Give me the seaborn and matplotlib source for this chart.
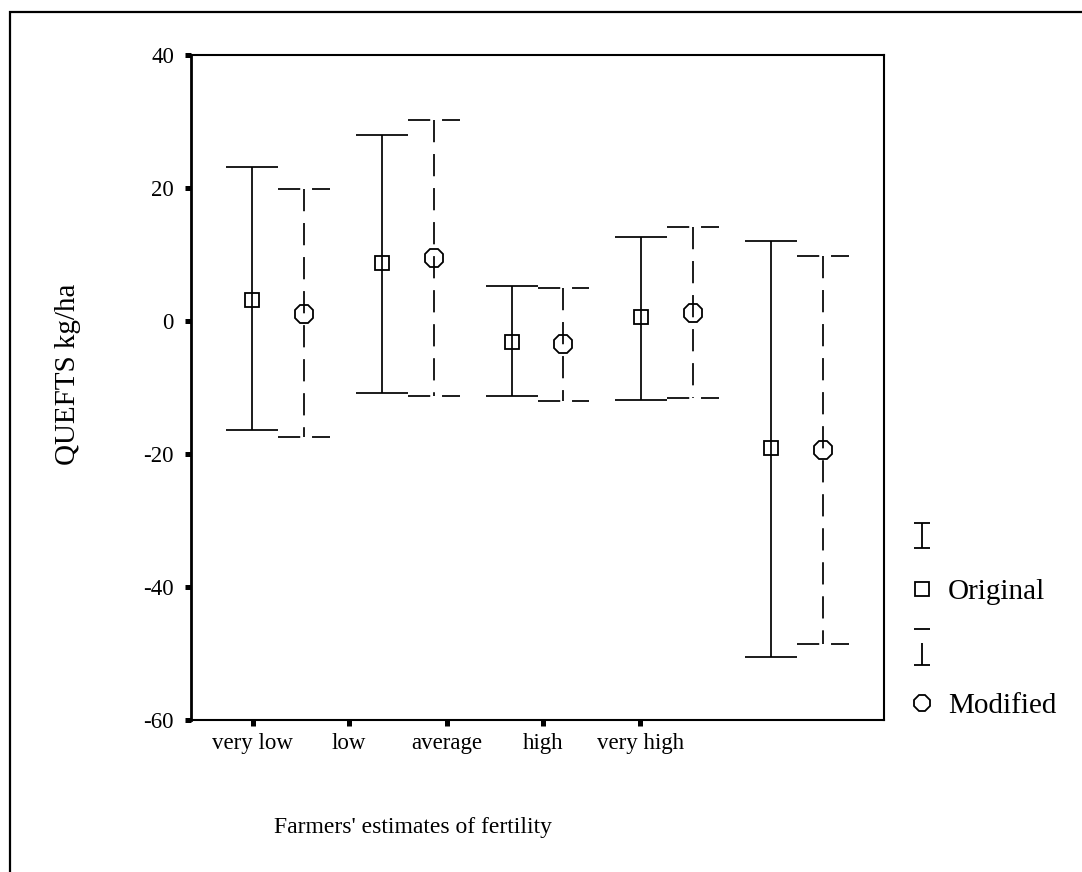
import matplotlib
matplotlib.use('Agg')
import matplotlib.pyplot as plt
import matplotlib.patches as mpatches
from matplotlib.lines import Line2D
from matplotlib.path import Path
import pandas as pd
import numpy as np
import seaborn as sns

# values (mean and error bar ends)
categories = ['very low', 'low', 'average', 'high', 'very high']
series = ['Original', 'Modified']
original_mean = [3.2, 8.7, -3.2, 0.6, -19.1]
original_upper = [23.2, 27.9, 5.3, 12.7, 12.1]
original_lower = [-16.4, -10.9, -11.3, -11.9, -50.6]
modified_mean = [1.1, 9.4, -3.4, 1.2, -19.4]
modified_upper = [19.9, 30.3, 5.0, 14.1, 9.7]
modified_lower = [-17.4, -11.3, -12.0, -11.6, -48.5]
y_ticks = [40, 20, 0, -20, -40, -60]

sns.set_theme(style='white')
plt.rcParams['font.family'] = ['Liberation Serif', 'DejaVu Serif']
plt.rcParams['axes.unicode_minus'] = False
plt.rcParams['lines.scale_dashes'] = False

df = pd.concat([
    pd.DataFrame({'estimate': categories, 'series': 'Original', 'mean': original_mean,
                  'lower': original_lower, 'upper': original_upper}),
    pd.DataFrame({'estimate': categories, 'series': 'Modified', 'mean': modified_mean,
                  'lower': modified_lower, 'upper': modified_upper}),
], ignore_index=True)

W, H = 1082, 872
fig = plt.figure(figsize=(W / 100, H / 100), dpi=100)
ax = fig.add_axes([191 / W, 1 - 720 / H, (884 - 191) / W, (720 - 55) / H])

sns.pointplot(data=df, x='estimate', y='mean', hue='series', order=categories,
              hue_order=series, dodge=0.4, markers=['s', '8'], linestyles='none',
              errorbar=None, palette={'Original': 'black', 'Modified': 'black'},
              markerfacecolor='none', markeredgewidth=1.3, legend=False, ax=ax)

marker_sizes = {'Original': 10.3, 'Modified': 14.3}
dash = (0, (16, 8.5))
for line, name in zip(ax.lines[:2], series):
    line.set_markersize(marker_sizes[name])
    line.set_zorder(3)
    sub = df[df['series'] == name]
    xs = np.asarray(line.get_xdata(), dtype=float)
    ls = '-' if name == 'Original' else dash
    # vertical bars drawn from the top so the dash pattern starts at the cap
    ax.vlines(xs, sub['upper'], sub['lower'], colors='black', linewidth=1.25,
              linestyles=ls, zorder=2)
    for yy in ('upper', 'lower'):
        ax.hlines(sub[yy], xs - 0.2, xs + 0.2, colors='black', linewidth=1.25,
                  linestyles=ls, zorder=2)

ax.set_xlim(-0.667, 4.667)
ax.set_ylim(-60, 40)
ax.set_yticks(y_ticks)
ax.set_yticklabels([str(v) for v in y_ticks])
# SPSS-style tick placement (labels do not sit under the bar pairs)
tick_pos = [-0.192, 0.546, 1.3, 2.046, 2.79]
ax.set_xticks(tick_pos)
ax.set_xticklabels(categories)
ax.tick_params(axis='both', which='major', direction='out', length=4.3, width=3.6,
               color='black', labelsize=16.5, labelcolor='black')
ax.tick_params(axis='y', pad=8)
ax.tick_params(axis='x', pad=5)
ax.tick_params(left=True, bottom=True)
for s in ax.spines.values():
    s.set_visible(True)
    s.set_color('black')
    s.set_linewidth(1.5)
ax.spines['left'].set_linewidth(2)
ax.grid(False)
ax.set_facecolor('white')

ax.set_xlabel("Farmers' estimates of fertility", fontsize=17, color='black')
ax.xaxis.label.set_va('center')
ax.xaxis.set_label_coords((413 - 191) / (884 - 191), (720 - 827) / (720 - 55))
ax.set_ylabel('QUEFTS kg/ha', fontsize=21, color='black')
ax.yaxis.label.set_va('center')
ax.yaxis.set_label_coords((68 - 191) / (884 - 191), (720 - 374) / (720 - 55))


def fx(px):
    return px / W


def fy(py):
    return 1 - py / H


# outer frame (only left and top edges fall inside the image)
fig.add_artist(mpatches.Rectangle((fx(10), -0.5), 2, fy(12) + 0.5, transform=fig.transFigure,
                                  fill=False, edgecolor='black', linewidth=1.6, clip_on=False))

# legend drawn by hand to match the SPSS layout
I_codes = [Path.MOVETO, Path.LINETO, Path.MOVETO, Path.LINETO, Path.MOVETO, Path.LINETO]
solid_I = Path([(-0.65, 1), (0.65, 1), (0, 1), (0, -1), (-0.65, -1), (0.65, -1)], I_codes)
dashed_I = Path([(-0.43, 1), (0.43, 1), (0, 0.19), (0, -1), (-0.43, -1), (0.43, -1)], I_codes)

legend_items = [
    (535, solid_I, 18, None),
    (589, 's', 10, 'Original'),
    (646.5, dashed_I, 26.6, None),
    (703, '8', 12, 'Modified'),
]
for py, mk, ms, label in legend_items:
    fig.add_artist(Line2D([fx(922)], [fy(py)], transform=fig.transFigure, marker=mk,
                          markersize=ms, markerfacecolor='none', markeredgecolor='black',
                          markeredgewidth=1.3, linestyle='none'))
    if label:
        fig.text(fx(948), fy(py + 10), label, fontsize=21, color='black',
                 ha='left', va='baseline')

fig.savefig('out.png', dpi=100, facecolor='white')
